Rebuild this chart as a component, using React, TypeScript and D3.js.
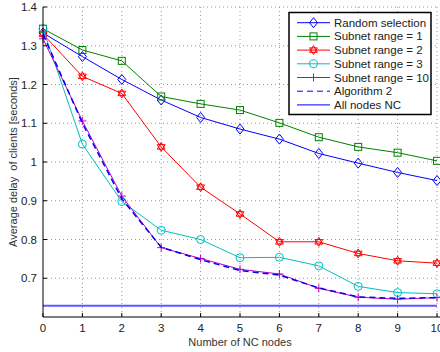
import React, { useEffect, useRef } from 'react';
import * as d3 from 'd3';

const nodes = [0, 1, 2, 3, 4, 5, 6, 7, 8, 9, 10];
const randomSel = [1.333, 1.272, 1.213, 1.16, 1.115, 1.085, 1.059, 1.022, 0.997, 0.973, 0.952];
const subnet1 = [1.344, 1.289, 1.261, 1.169, 1.15, 1.134, 1.101, 1.064, 1.039, 1.024, 1.003];
const subnet2 = [1.33, 1.221, 1.177, 1.039, 0.935, 0.866, 0.794, 0.794, 0.764, 0.745, 0.739];
const subnet3 = [1.344, 1.046, 0.898, 0.824, 0.8, 0.753, 0.754, 0.732, 0.679, 0.663, 0.66];
const subnet10 = [1.318, 1.106, 0.912, 0.779, 0.751, 0.723, 0.711, 0.674, 0.651, 0.646, 0.65];
const algo2 = [1.33, 1.1, 0.905, 0.78, 0.748, 0.72, 0.708, 0.675, 0.652, 0.648, 0.65];
const allNodesNC = 0.629;
const yTicks = [0.7, 0.8, 0.9, 1.0, 1.1, 1.2, 1.3, 1.4];

const series = [
  { name: 'Random selection', values: randomSel, color: '#0000ff', marker: 'diamond', dash: '' },
  { name: 'Subnet range = 1', values: subnet1, color: '#008000', marker: 'square', dash: '' },
  { name: 'Subnet range = 2', values: subnet2, color: '#ff0000', marker: 'hexagram', dash: '' },
  { name: 'Subnet range = 3', values: subnet3, color: '#00bfbf', marker: 'circle', dash: '' },
  { name: 'Subnet range = 10', values: subnet10, color: '#bf00bf', marker: 'plus', dash: '' },
  { name: 'Algorithm 2', values: algo2, color: '#0000ff', marker: 'none', dash: '6,4' },
];

function drawMarker(g: any, type: string, cx: number, cy: number, color: string) {
  if (type === 'diamond') {
    g.append('path').attr('d', `M${cx},${cy - 5}L${cx + 4},${cy}L${cx},${cy + 5}L${cx - 4},${cy}Z`)
      .attr('fill', 'none').attr('stroke', color).attr('stroke-width', 1);
  } else if (type === 'square') {
    g.append('rect').attr('x', cx - 3.5).attr('y', cy - 3.5).attr('width', 7).attr('height', 7)
      .attr('fill', 'none').attr('stroke', color).attr('stroke-width', 1);
  } else if (type === 'circle') {
    g.append('circle').attr('cx', cx).attr('cy', cy).attr('r', 4)
      .attr('fill', 'none').attr('stroke', color).attr('stroke-width', 1);
  } else if (type === 'plus') {
    g.append('path').attr('d', `M${cx - 4},${cy}H${cx + 4}M${cx},${cy - 4}V${cy + 4}`)
      .attr('stroke', color).attr('stroke-width', 1);
  } else if (type === 'hexagram') {
    const r = 4.5;
    const tri = (off: number) => d3.range(3).map(i => {
      const a = off + i * 2 * Math.PI / 3;
      return [cx + r * Math.sin(a), cy - r * Math.cos(a)];
    });
    [0, Math.PI].forEach(off => {
      g.append('path').attr('d', d3.line()(tri(off) as any) + 'Z')
        .attr('fill', 'none').attr('stroke', color).attr('stroke-width', 1);
    });
  }
}

export default function App() {
  const ref = useRef<SVGSVGElement>(null);

  useEffect(() => {
    const svg = d3.select(ref.current);
    svg.selectAll('*').remove();

    const left = 43, right = 437, top = 7, bottom = 317;
    const x = d3.scaleLinear().domain([0, 10]).range([left, right]);
    const y = d3.scaleLinear().domain([0.6, 1.4]).range([bottom, top]);
    const font = 'Liberation Sans, Arial, sans-serif';

    const grid = svg.append('g').attr('stroke', '#999').attr('stroke-width', 1).attr('stroke-dasharray', '1,3');
    nodes.slice(1).forEach(n => {
      grid.append('line').attr('x1', x(n)).attr('x2', x(n)).attr('y1', top).attr('y2', bottom);
    });
    yTicks.forEach(t => {
      grid.append('line').attr('x1', left).attr('x2', right).attr('y1', y(t)).attr('y2', y(t));
    });

    // All nodes NC
    svg.append('line').attr('x1', left).attr('x2', right).attr('y1', y(allNodesNC)).attr('y2', y(allNodesNC))
      .attr('stroke', '#5a5aff').attr('stroke-width', 2);

    const line = d3.line<number>().x((_, i) => x(nodes[i])).y(d => y(d));
    series.forEach(s => {
      svg.append('path').attr('d', line(s.values)).attr('fill', 'none')
        .attr('stroke', s.color).attr('stroke-width', s.dash ? 1.5 : 1)
        .attr('stroke-dasharray', s.dash || null);
      const mg = svg.append('g');
      s.values.forEach((v, i) => drawMarker(mg, s.marker, x(nodes[i]), y(v), s.color));
    });

    // axes
    const ax = svg.append('g');
    ax.append('line').attr('x1', left).attr('x2', left).attr('y1', top).attr('y2', bottom).attr('stroke', '#000');
    ax.append('line').attr('x1', left).attr('x2', right + 3).attr('y1', bottom).attr('y2', bottom).attr('stroke', '#000');
    nodes.forEach(n => {
      ax.append('line').attr('x1', x(n)).attr('x2', x(n)).attr('y1', bottom).attr('y2', bottom - 4).attr('stroke', '#000');
      ax.append('text').attr('x', x(n)).attr('y', bottom + 15).attr('text-anchor', 'middle')
        .attr('font-family', font).attr('font-size', 11.5).attr('fill', '#222').text(n);
    });
    yTicks.forEach(t => {
      ax.append('line').attr('x1', left).attr('x2', left + 4).attr('y1', y(t)).attr('y2', y(t)).attr('stroke', '#000');
      ax.append('text').attr('x', left - 6).attr('y', y(t) + 4).attr('text-anchor', 'end')
        .attr('font-family', font).attr('font-size', 11.5).attr('fill', '#222').text(d3.format('')(+t.toFixed(1)));
    });

    svg.append('text').attr('x', (left + right) / 2).attr('y', 346).attr('text-anchor', 'middle')
      .attr('font-family', font).attr('font-size', 11).attr('fill', '#333').text('Number of NC nodes');
    svg.append('text').attr('transform', `translate(17,${(top + bottom) / 2}) rotate(-90)`)
      .attr('text-anchor', 'middle').attr('font-family', font).attr('font-size', 11).attr('fill', '#333')
      .style('white-space', 'pre').text('Average delay  of clients [seconds]');

    // legend
    const lg = svg.append('g');
    lg.append('rect').attr('x', 289).attr('y', 12.5).attr('width', 142).attr('height', 102)
      .attr('fill', '#fff').attr('stroke', '#000').attr('stroke-width', 1.5);
    const entries = [...series, { name: 'All nodes NC', values: [], color: '#0000ff', marker: 'none', dash: '' }];
    entries.forEach((s, i) => {
      const yy = 22.7 + i * 13.7;
      lg.append('line').attr('x1', 297).attr('x2', 330).attr('y1', yy).attr('y2', yy)
        .attr('stroke', s.color).attr('stroke-width', 1).attr('stroke-dasharray', s.dash || null);
      drawMarker(lg, s.marker, 313.5, yy, s.color);
      lg.append('text').attr('x', 334).attr('y', yy + 4).attr('font-family', font).attr('font-size', 11.5)
        .attr('fill', '#222').text(s.name);
    });
  }, []);

  return <svg ref={ref} width={440} height={352} style={{ position: 'absolute', left: 0, top: 0 }} />;
}
